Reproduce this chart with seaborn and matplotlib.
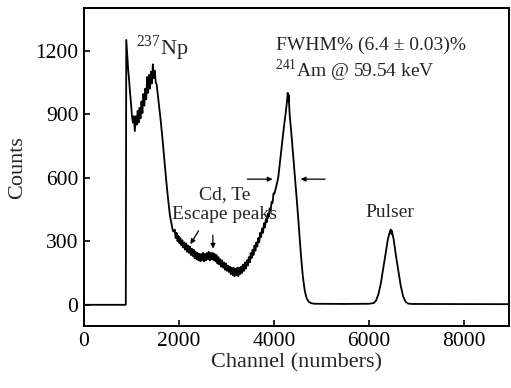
import pandas as pd
import matplotlib
matplotlib.use('Agg')
import matplotlib.pyplot as plt
import seaborn as sns

# spectrum (channel, counts)
channels = [0, 880, 890, 910, 930, 950, 970, 990, 1010, 1030, 1050, 1070, 1090, 1110, 1130,
            1150, 1170, 1190, 1210, 1230, 1250, 1270, 1290, 1310, 1330, 1350, 1370, 1390,
            1410, 1430, 1450, 1470, 1490, 1510, 1530, 1570, 1610, 1650, 1690, 1730, 1770,
            1810, 1850, 1870, 1890, 1910, 1930, 1950, 1970, 1990, 2010, 2030, 2050, 2070,
            2090, 2110, 2130, 2150, 2170, 2190, 2210, 2230, 2250, 2270, 2290, 2310, 2330,
            2350, 2370, 2390, 2410, 2430, 2450, 2470, 2490, 2510, 2530, 2550, 2570, 2590,
            2610, 2630, 2650, 2670, 2690, 2710, 2730, 2750, 2770, 2790, 2810, 2830, 2850,
            2870, 2890, 2910, 2930, 2950, 2970, 2990, 3010, 3030, 3050, 3070, 3090, 3110,
            3130, 3150, 3170, 3190, 3210, 3230, 3250, 3270, 3290, 3310, 3330, 3350, 3370,
            3390, 3410, 3430, 3450, 3470, 3490, 3510, 3530, 3550, 3570, 3590, 3610, 3630,
            3650, 3670, 3690, 3710, 3730, 3750, 3770, 3790, 3810, 3830, 3850, 3870, 3890,
            3910, 3930, 3950, 3970, 3990, 4010, 4050, 4090, 4130, 4170, 4210, 4250, 4270,
            4290, 4300, 4310, 4330, 4370, 4410, 4450, 4490, 4530, 4570, 4610, 4650, 4690,
            4730, 4780, 4850, 5500, 6000, 6100, 6150, 6200, 6250, 6300, 6350, 6400, 6440,
            6460, 6470, 6480, 6520, 6570, 6620, 6670, 6720, 6770, 6820, 6900, 8950]
counts = [0, 0, 1250, 1180, 1110, 1060, 1000, 950, 890, 860, 890, 820, 890, 850, 915,
          860, 930, 880, 960, 905, 995, 940, 1020, 970, 1075, 1000, 1085, 1020,
          1100, 1045, 1135, 1070, 1105, 1050, 1040, 960, 880, 790, 690, 590, 500,
          420, 375, 350, 345, 355, 315, 340, 300, 325, 290, 315, 280, 305,
          270, 295, 260, 290, 250, 280, 245, 275, 235, 265, 230, 260, 220,
          250, 215, 245, 210, 240, 205, 240, 210, 245, 205, 240, 210, 245,
          215, 250, 210, 245, 215, 245, 210, 240, 205, 235, 195, 225, 190,
          215, 180, 210, 175, 200, 165, 195, 160, 185, 155, 180, 145, 175,
          140, 175, 135, 170, 140, 175, 135, 175, 145, 180, 150, 190, 160,
          200, 170, 210, 185, 225, 200, 245, 220, 260, 235, 280, 255, 295,
          275, 315, 295, 340, 320, 360, 340, 385, 365, 405, 390, 430, 415,
          455, 445, 485, 480, 525, 525, 560, 600, 680, 760, 840, 910, 950,
          1000, 960, 990, 900, 800, 690, 580, 470, 350, 230, 130, 65, 30,
          15, 8, 5, 4, 5, 8, 20, 50, 100, 170, 240, 310, 345,
          355, 335, 350, 310, 230, 160, 90, 40, 15, 6, 4, 3]

df = pd.DataFrame({'channel': channels, 'counts': counts})

sns.set_style('ticks')
plt.rcParams['font.family'] = ['Liberation Serif', 'DejaVu Serif']
plt.rcParams['mathtext.fontset'] = 'custom'
plt.rcParams['mathtext.rm'] = 'Liberation Serif'

fig = plt.figure(figsize=(5.11, 3.88), dpi=100)
ax = fig.add_axes([0.1644, 0.1598, 0.8317, 0.8192])

sns.lineplot(data=df, x='channel', y='counts', ax=ax, color='black', lw=1.3,
             sort=False, estimator=None)

ax.set_xlim(0, 8950)
ax.set_ylim(-100, 1400)
ax.set_xticks([0, 2000, 4000, 6000, 8000])
ax.set_yticks([0, 300, 600, 900, 1200])
ax.tick_params(direction='in', length=4, width=1.2, labelsize=15.5, pad=4,
               colors='black')
for s in ax.spines.values():
    s.set_linewidth(1.4)
    s.set_color('black')

ax.set_xlabel('Channel (numbers)', fontsize=16, labelpad=2)
ax.set_ylabel('Counts', fontsize=16, labelpad=6)

ax.text(1095, 1210, r'$^{237}$Np', fontsize=16, va='center', ha='left')
ax.text(4040, 1225, u'FWHM% (6.4 \u00b1 0.03)%', fontsize=14, va='center', ha='left')
ax.text(4020, 1106, r'$^{241}$Am @ 59.54 keV', fontsize=14, va='center', ha='left')
ax.text(2968, 522, 'Cd, Te', fontsize=14, va='center', ha='center')
ax.text(2968, 427, 'Escape peaks', fontsize=14, va='center', ha='center')
ax.text(6442, 437, 'Pulser', fontsize=14, va='center', ha='center')

arrow = dict(arrowstyle='-|>', color='black', lw=0.9, mutation_scale=7)
ax.annotate('', xy=(2210, 275), xytext=(2442, 360), arrowprops=arrow)
ax.annotate('', xy=(2720, 252), xytext=(2710, 342), arrowprops=arrow)
ax.annotate('', xy=(4030, 593), xytext=(3380, 593), arrowprops=arrow)
ax.annotate('', xy=(4505, 593), xytext=(5137, 593), arrowprops=arrow)

fig.savefig('out.png', dpi=100)
